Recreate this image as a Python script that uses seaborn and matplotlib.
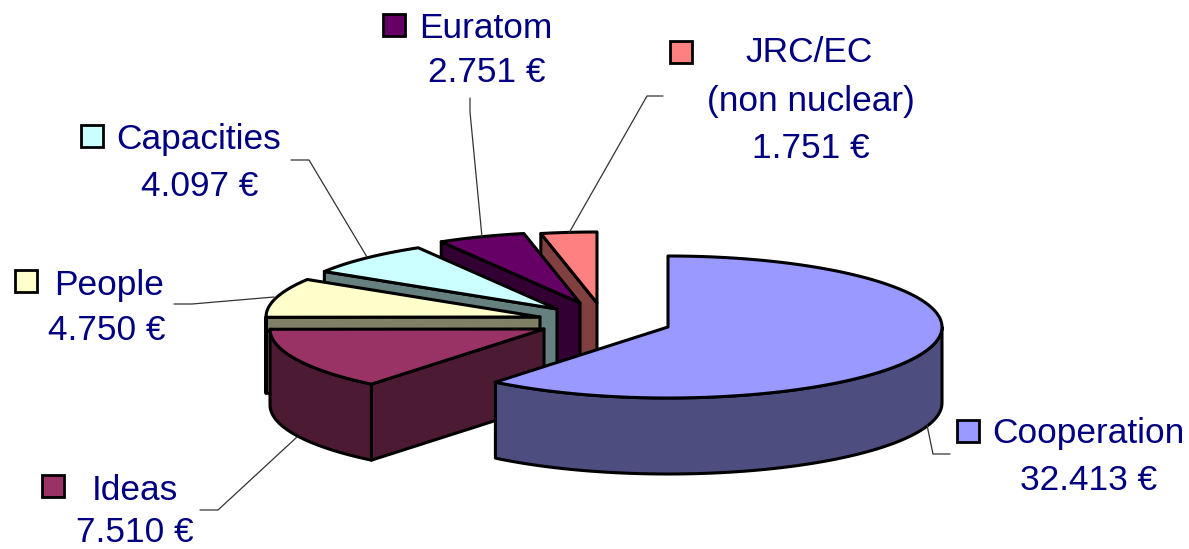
import numpy as np
import matplotlib
matplotlib.use("Agg")
import matplotlib.pyplot as plt
from matplotlib.patches import Polygon, Rectangle
import seaborn as sns

# Programme budget by area
categories = ["Cooperation", "Ideas", "People", "Capacities", "Euratom", "JRC/EC\n(non nuclear)"]
budget = [32413, 7510, 4750, 4097, 2751, 1751]
slice_colors = ["#9999FF", "#993366", "#FFFFCC", "#CCFFFF", "#660066", "#FF8080"]

# Exploded wedge apex for each slice, in figure pixels
apex_x = [668, 544, 540, 557, 580, 597]
apex_y = [327, 329, 317, 309, 303, 303]

# Legend swatch corner and text centre for each slice
swatch_xy = [(957, 420), (42, 475), (15, 270), (81, 125), (383, 14), (670, 41)]
label_xy = [(1088, 434), (135, 490), (109, 285), (199, 140), (486, 28), (809, 53)]
value_xy = [(1089, 480), (135, 533), (107, 330), (200, 186), (487, 73), (811, 148)]

# Elbow leader lines, slice order
leaders = [
    [(950, 454), (933, 454), (927, 425)],
    [(200, 510), (218, 510), (297, 437)],
    [(174, 304), (192, 304), (274, 297)],
    [(291, 160), (309, 160), (367, 257)],
    [(470, 98), (470, 112), (482, 237)],
    [(663, 96), (647, 96), (569, 233)],
]

RX, RY, DEPTH = 274, 71, 76
TEXT = "#000080"
FONT_SIZE = 25.4

sns.set_theme(style="white")
plt.rcParams["font.family"] = ["Liberation Sans", "DejaVu Sans"]
palette = sns.color_palette(slice_colors)
shaded = [tuple(c * 0.5 for c in rgb) for rgb in palette]

fig, ax = plt.subplots(figsize=(11.89, 5.49), dpi=100)
fig.subplots_adjust(0, 0, 1, 1)
ax.set_xlim(0, 1189)
ax.set_ylim(549, 0)
ax.set_axis_off()


def rim(cx, cy, a0, a1, drop=0.0):
    """Points on the tilted ellipse, angles clockwise from twelve o'clock."""
    t = np.radians(np.linspace(a0, a1, max(int(abs(a1 - a0)), 2) + 1))
    return np.column_stack([cx + RX * np.sin(t), cy - RY * np.cos(t) + drop])


edges = np.concatenate([[0], np.cumsum(budget)]) / sum(budget) * 360
line = dict(edgecolor="black", linewidth=2.2, joinstyle="round")

# Paint back to front so nearer slices overlap those behind them
for i in reversed(range(len(budget))):
    a0, a1 = edges[i], edges[i + 1]
    cx, cy = apex_x[i], apex_y[i]
    start = rim(cx, cy, a0, a0 + 1e-6)[0]

    # radial wall on the leading side faces the viewer for every slice but the first
    if i > 0:
        wall = [(cx, cy), start, start + (0, DEPTH), (cx, cy + DEPTH)]
        ax.add_patch(Polygon(wall, facecolor=shaded[i], **line))

    # outer wall only where the rim runs along the front half
    lo, hi = max(a0, 90), min(a1, 270)
    if hi > lo:
        arc = rim(cx, cy, lo, hi)
        ax.add_patch(Polygon(np.vstack([arc, arc[::-1] + (0, DEPTH)]),
                             facecolor=shaded[i], **line))

    top = np.vstack([[(cx, cy)], rim(cx, cy, a0, a1)])
    ax.add_patch(Polygon(top, facecolor=palette[i], **line))

# Labels, swatches and leaders
for i, name in enumerate(categories):
    ax.add_patch(Rectangle(swatch_xy[i], 22, 22, facecolor=palette[i],
                           edgecolor="black", linewidth=2.0))
    ax.text(*label_xy[i], name.split("\n")[0], color=TEXT, fontsize=FONT_SIZE,
            ha="center", va="center")
    ax.text(*value_xy[i], f"{budget[i]:,}".replace(",", ".") + " €", color=TEXT,
            fontsize=FONT_SIZE, ha="center", va="center")
    if "\n" in name:
        ax.text(811, 101, name.split("\n")[1], color=TEXT, fontsize=FONT_SIZE,
                ha="center", va="center")
    xs, ys = zip(*leaders[i])
    ax.plot(xs, ys, color="#333333", linewidth=0.9)

fig.savefig("out.png", dpi=100, facecolor="white")
